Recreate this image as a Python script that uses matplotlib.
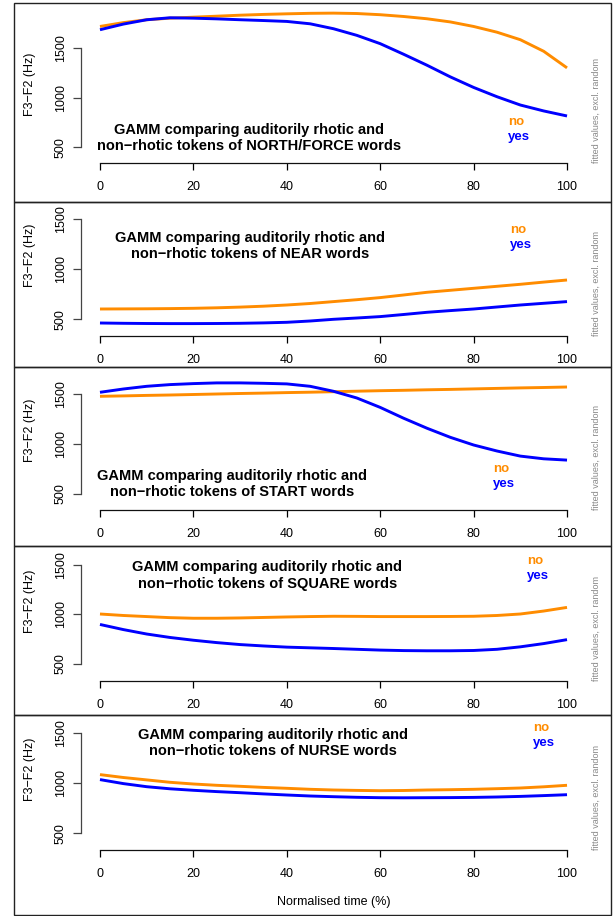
import matplotlib
matplotlib.use("Agg")
import matplotlib.pyplot as plt
from matplotlib.patches import Rectangle

plt.rcParams['font.family'] = ['Liberation Sans', 'DejaVu Sans']

# normalised time (%)
time_pct = [0, 5, 10, 15, 20, 25, 30, 35, 40, 45, 50, 55, 60, 65, 70, 75, 80, 85, 90, 95, 100]

vowels = ["NORTH/FORCE", "NEAR", "START", "SQUARE", "NURSE"]
legend_labels = ["no", "yes"]

# fitted F3-F2 (Hz), rhotic = no
north_no = [1721, 1760, 1789, 1805, 1815, 1825, 1835, 1843, 1849, 1854, 1856,
            1852, 1840, 1822, 1799, 1767, 1721, 1663, 1587, 1470, 1302]
near_no = [603, 604, 605, 607, 610, 615, 622, 631, 643, 658, 677,
           696, 717, 743, 770, 790, 810, 830, 850, 872, 893]
start_no = [1477, 1481, 1486, 1490, 1495, 1500, 1505, 1509, 1514, 1518, 1523,
            1528, 1533, 1537, 1542, 1546, 1551, 1556, 1561, 1565, 1570]
square_no = [1003, 988, 977, 966, 960, 960, 963, 968, 973, 977, 980,
             979, 977, 977, 977, 978, 980, 988, 1003, 1033, 1070]
nurse_no = [1087, 1058, 1034, 1010, 993, 980, 970, 959, 950, 940, 933,
            929, 926, 928, 933, 936, 940, 946, 953, 965, 980]

# fitted F3-F2 (Hz), rhotic = yes
north_yes = [1688, 1745, 1789, 1809, 1805, 1798, 1789, 1781, 1772, 1748, 1698,
             1631, 1547, 1440, 1329, 1211, 1104, 1010, 926, 866, 815]
near_yes = [463, 460, 458, 457, 457, 458, 460, 464, 470, 483, 500,
            513, 527, 548, 570, 587, 603, 623, 643, 660, 677]
start_yes = [1517, 1550, 1577, 1594, 1604, 1611, 1611, 1607, 1601, 1577, 1527,
             1460, 1366, 1258, 1158, 1067, 990, 930, 879, 852, 839]
square_yes = [897, 845, 800, 765, 737, 713, 693, 679, 667, 660, 653,
              645, 637, 632, 630, 630, 633, 645, 670, 703, 743]
nurse_yes = [1037, 997, 966, 945, 930, 917, 906, 894, 883, 873, 866,
             860, 856, 855, 856, 857, 859, 863, 869, 877, 886]

no_series = [north_no, near_no, start_no, square_no, nurse_no]
yes_series = [north_yes, near_yes, start_yes, square_yes, nurse_yes]

# layout in pixels (616 x 916 canvas)
W, H = 616, 916
box_tops = [2.7, 202, 366.7, 545.7, 715, 915]
tick1500_px = [48.3, 219.3, 394, 565, 733.3]
axis_px = [163, 335.7, 510, 681, 850]
px_per_hz = [0.0988, 0.1, 0.1, 0.0986, 0.1]
title_pos = [(249, 138), (250, 246), (232, 484), (267.5, 575.5), (273, 743.3)]
legend_pos = [(508, 122.3), (510, 230), (492.7, 469.3), (527, 561), (533, 728.3)]

orange = "#FF8C00"
blue = "#0000FF"

fig = plt.figure(figsize=(W / 100, H / 100), dpi=100)


def fx(x):
    return x / W


def fy(y):
    return 1 - y / H


left_px, right_px = 81.3, 585.7

for i in range(5):
    # panel frame
    fig.add_artist(Rectangle((fx(14.3), fy(box_tops[i + 1])), fx(611) - fx(14.3),
                             fy(box_tops[i]) - fy(box_tops[i + 1]),
                             transform=fig.transFigure, fill=False,
                             edgecolor="#222222", lw=1.0))

    top = box_tops[i] + 2
    bot = axis_px[i]
    s = px_per_hz[i]
    ymin = 1500 - (bot - tick1500_px[i]) / s
    ymax = 1500 + (tick1500_px[i] - top) / s

    ax = fig.add_axes([fx(left_px), fy(bot), fx(right_px) - fx(left_px), (bot - top) / H])
    ax.set_xlim(-4, 104)
    ax.set_ylim(ymin, ymax)
    ax.patch.set_alpha(0)

    ax.plot(time_pct, no_series[i], color=orange, lw=2.1, solid_capstyle="butt")
    ax.plot(time_pct, yes_series[i], color=blue, lw=2.1, solid_capstyle="butt")

    for side in ["top", "right"]:
        ax.spines[side].set_visible(False)
    ax.spines["left"].set_bounds(500, 1500)
    ax.spines["bottom"].set_bounds(0, 100)
    ax.spines["left"].set_color("#444444")
    ax.spines["bottom"].set_color("#111111")
    ax.spines["left"].set_linewidth(0.9)
    ax.spines["bottom"].set_linewidth(0.9)

    ax.set_xticks([0, 20, 40, 60, 80, 100])
    ax.set_yticks([500, 1000, 1500])
    ax.tick_params(axis="x", length=5, width=0.9, pad=8, labelsize=9)
    ax.tick_params(axis="y", length=5.5, width=0.9, pad=5, labelsize=9, color="#444444")
    for lab in ax.get_yticklabels():
        lab.set_rotation(90)
        lab.set_va("center")

    # y label
    fig.text(fx(30), fy(tick1500_px[i] + 36), "F3\u2212F2 (Hz)", rotation=90,
             ha="center", va="center", fontsize=9)

    # side note
    fig.text(fx(596), fy(bot), "fitted values, excl. random", rotation=90,
             ha="center", va="bottom", fontsize=6.5, color="#888888")

    # title
    tx, ty = title_pos[i]
    fig.text(fx(tx), fy(ty), "GAMM comparing auditorily rhotic and\nnon\u2212rhotic tokens of "
             + vowels[i] + " words", ha="center", va="center", multialignment="center",
             fontsize=10.5, fontweight="bold", linespacing=1.2)

    # legend
    lx, ly = legend_pos[i]
    fig.text(fx(lx), fy(ly), legend_labels[0], color=orange, fontweight="bold",
             fontsize=9.5, ha="left", va="center")
    fig.text(fx(lx), fy(ly + 14.7), legend_labels[1], color=blue, fontweight="bold",
             fontsize=9.5, ha="left", va="center")

fig.text(fx(333.5), fy(901.7), "Normalised time (%)", ha="center", va="center", fontsize=9)

fig.savefig("out.png", dpi=100)
